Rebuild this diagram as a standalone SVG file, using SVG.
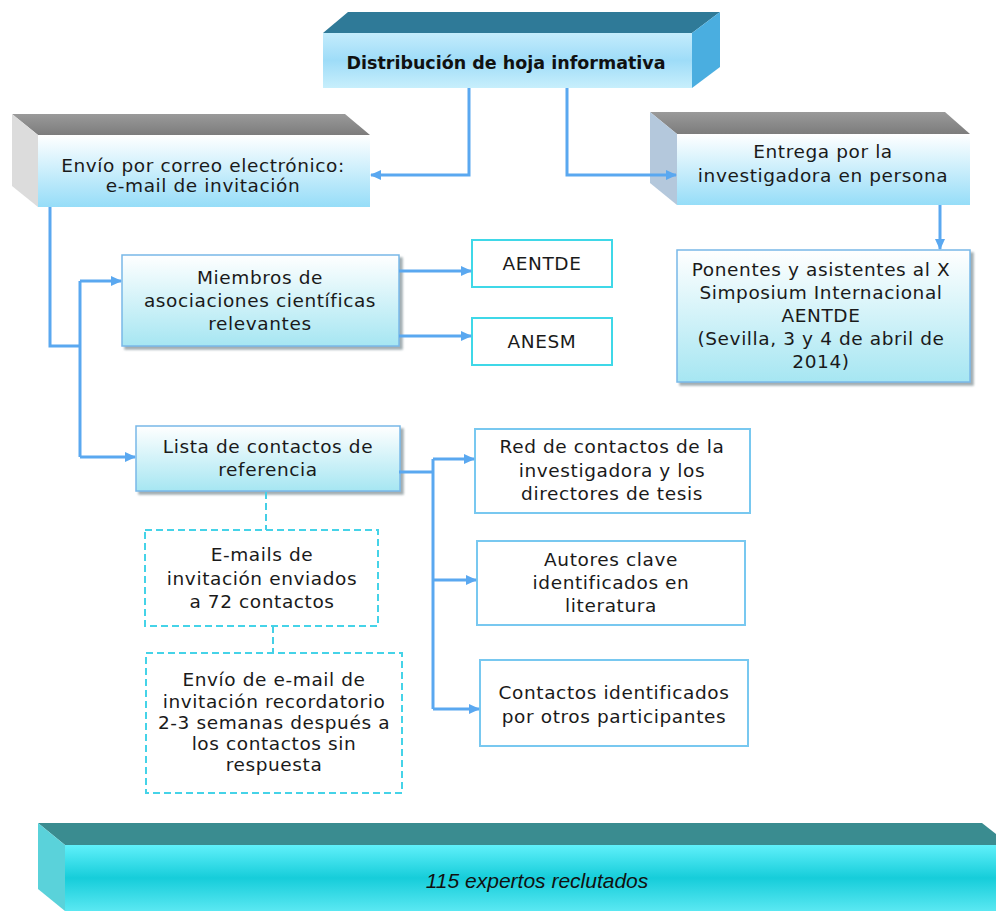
<svg xmlns="http://www.w3.org/2000/svg" width="996" height="911" viewBox="0 0 996 911">
<style>
.t{font-family:"DejaVu Sans","Verdana",sans-serif;font-size:18.5px;fill:#1a1a1a;text-anchor:middle;letter-spacing:0.6px}
.tb{font-family:"DejaVu Sans",sans-serif;font-size:17.5px;font-weight:bold;fill:#111;text-anchor:middle}
.ti{font-family:"Liberation Sans",sans-serif;font-size:21px;font-style:italic;fill:#111;text-anchor:middle}
.con{fill:none;stroke:#5aa8f0;stroke-width:3}
.arr{marker-end:url(#ah)}
.dash{fill:none;stroke:#45cfe6;stroke-width:2;stroke-dasharray:7 4}
.dbox{fill:#fff;stroke:#45d3e8;stroke-width:2;stroke-dasharray:7 4}
.cbox{fill:#fff;stroke:#3fd8e8;stroke-width:2}
.lbox{fill:#fff;stroke:#78c8f0;stroke-width:2}
.gbox{fill:url(#gLight);stroke:#78b8e8;stroke-width:1.5;filter:url(#sh)}
</style>
<defs>
<marker id="ah" markerUnits="userSpaceOnUse" markerWidth="11" markerHeight="10" refX="10" refY="5" orient="auto">
<path d="M0,0 L11,5 L0,10 z" fill="#5aa8f0"/>
</marker>
<linearGradient id="gLight" x1="0" y1="0" x2="0" y2="1">
<stop offset="0" stop-color="#ffffff"/>
<stop offset="1" stop-color="#a6e6f2"/>
</linearGradient>
<linearGradient id="gTop" x1="0" y1="0" x2="0" y2="1">
<stop offset="0" stop-color="#c4ecfc"/>
<stop offset="0.5" stop-color="#9edcf8"/>
<stop offset="1" stop-color="#c8effc"/>
</linearGradient>
<linearGradient id="gSide" x1="0" y1="0" x2="0" y2="1">
<stop offset="0" stop-color="#ffffff"/>
<stop offset="1" stop-color="#96ddf8"/>
</linearGradient>
<linearGradient id="gGray" x1="0" y1="0" x2="0" y2="1">
<stop offset="0" stop-color="#9a9a9a"/>
<stop offset="1" stop-color="#7c7c7c"/>
</linearGradient>
<linearGradient id="gBar" x1="0" y1="0" x2="0" y2="1">
<stop offset="0" stop-color="#60f0fa"/>
<stop offset="0.5" stop-color="#16cdda"/>
<stop offset="1" stop-color="#5ae8f2"/>
</linearGradient>
<filter id="sh" x="-5%" y="-5%" width="115%" height="120%">
<feDropShadow dx="3" dy="3" stdDeviation="1.2" flood-color="#7a8a90" flood-opacity="0.7"/>
</filter>
</defs>

<g id="n-distribucion">
<polygon points="323,33 348,12 720,12 692,33" fill="#2f7a98"/>
<polygon points="692,33 720,12 720,67 692,88" fill="#4aaee0"/>
<rect x="323" y="33" width="369" height="55" fill="url(#gTop)"/>
<text class="tb" x="506" y="69">Distribución de hoja informativa</text>
</g>

<g id="n-email">
<polygon points="38,135 12,114 345,114 370,135" fill="url(#gGray)"/>
<polygon points="12,114 38,135 38,207 12,186" fill="#dcdcdc"/>
<rect x="38" y="135" width="332" height="72" fill="url(#gSide)"/>
<text class="t" x="203" y="172">Envío por correo electrónico:</text>
<text class="t" x="203" y="192">e-mail de invitación</text>
</g>

<g id="n-entrega">
<polygon points="677,134 650,112 945,112 970,134" fill="url(#gGray)"/>
<polygon points="650,112 677,134 677,205 650,183" fill="#b4c8dc"/>
<rect x="677" y="134" width="293" height="71" fill="url(#gSide)"/>
<text class="t" x="823" y="158">Entrega por la</text>
<text class="t" x="823" y="182">investigadora en persona</text>
</g>

<g id="n-ponentes">
<rect class="gbox" x="677" y="250" width="293" height="132"/>
<text class="t" x="821" y="276">Ponentes y asistentes al X</text>
<text class="t" x="821" y="299">Simposium Internacional</text>
<text class="t" x="821" y="322">AENTDE</text>
<text class="t" x="821" y="345">(Sevilla, 3 y 4 de abril de</text>
<text class="t" x="821" y="368">2014)</text>
</g>

<g id="n-miembros">
<rect class="gbox" x="122" y="255" width="277" height="91"/>
<text class="t" x="260" y="284">Miembros de</text>
<text class="t" x="260" y="307">asociaciones científicas</text>
<text class="t" x="260" y="330">relevantes</text>
</g>

<g id="n-aentde">
<rect class="cbox" x="472" y="240" width="140" height="47"/>
<text class="t" x="542" y="270">AENTDE</text>
</g>

<g id="n-anesm">
<rect class="cbox" x="472" y="318" width="140" height="47"/>
<text class="t" x="542" y="348">ANESM</text>
</g>

<g id="n-lista">
<rect class="gbox" x="136" y="426" width="264" height="65"/>
<text class="t" x="268" y="453">Lista de contactos de</text>
<text class="t" x="268" y="476">referencia</text>
</g>

<g id="n-red">
<rect class="lbox" x="475" y="429" width="275" height="84"/>
<text class="t" x="612" y="453">Red de contactos de la</text>
<text class="t" x="612" y="477">investigadora y los</text>
<text class="t" x="612" y="500">directores de tesis</text>
</g>

<g id="n-autores">
<rect class="lbox" x="477" y="541" width="268" height="84"/>
<text class="t" x="611" y="566">Autores clave</text>
<text class="t" x="611" y="589">identificados en</text>
<text class="t" x="611" y="612">literatura</text>
</g>

<g id="n-contactos">
<rect class="lbox" x="480" y="660" width="268" height="86"/>
<text class="t" x="614" y="699">Contactos identificados</text>
<text class="t" x="614" y="723">por otros participantes</text>
</g>

<g id="n-emails">
<rect class="dbox" x="145" y="530" width="233" height="96"/>
<text class="t" x="262" y="561">E-mails de</text>
<text class="t" x="262" y="585">invitación enviados</text>
<text class="t" x="262" y="608">a 72 contactos</text>
</g>

<g id="n-recordatorio">
<rect class="dbox" x="146" y="653" width="256" height="140"/>
<text class="t" x="274" y="686">Envío de e-mail de</text>
<text class="t" x="274" y="708">invitación recordatorio</text>
<text class="t" x="274" y="729">2-3 semanas después a</text>
<text class="t" x="274" y="750">los contactos sin</text>
<text class="t" x="274" y="771">respuesta</text>
</g>

<g id="n-expertos">
<polygon points="65,845 38,823 982,823 1010,845" fill="#3a8c90"/>
<polygon points="38,823 65,845 65,911 38,889" fill="#5ad2da"/>
<rect x="65" y="845" width="931" height="66" fill="url(#gBar)"/>
<text class="ti" x="537" y="888">115 expertos reclutados</text>
</g>

<g id="connectors">
<path class="con arr" d="M469,88 V175 H371"/>
<path class="con arr" d="M567,88 V175 H676"/>
<path class="con arr" d="M940,205 V249"/>
<path class="con" d="M50,207 V346 H80"/>
<path class="con" d="M80,281 V457"/>
<path class="con arr" d="M80,281 H121"/>
<path class="con arr" d="M80,457 H135"/>
<path class="con arr" d="M399,271 H471"/>
<path class="con arr" d="M399,336 H471"/>
<path class="con" d="M399,472 H433"/>
<path class="con" d="M433,459 V709"/>
<path class="con arr" d="M433,459 H474"/>
<path class="con arr" d="M433,580 H476"/>
<path class="con arr" d="M433,709 H479"/>
<path class="dash" d="M266,492 V530"/>
<path class="dash" d="M273,626 V653"/>
</g>
</svg>
